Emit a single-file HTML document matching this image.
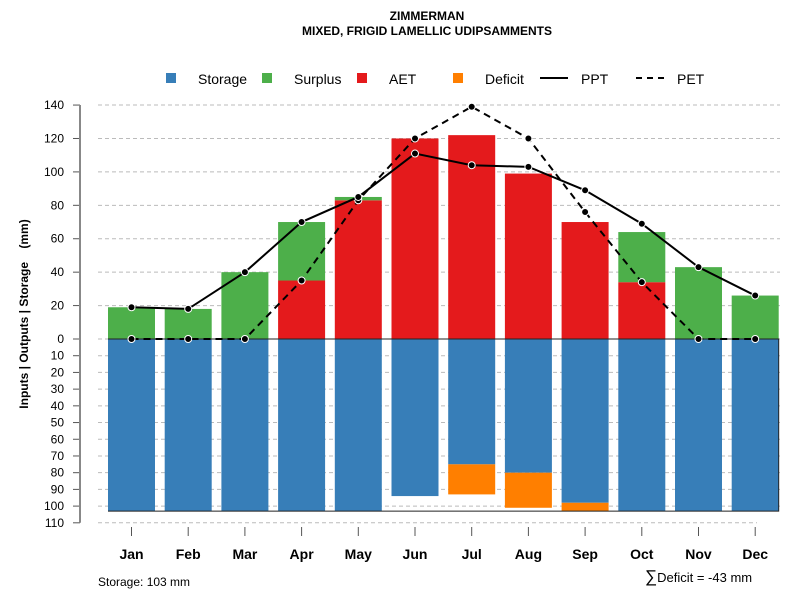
<!DOCTYPE html>
<html><head><meta charset="utf-8"><style>
body{margin:0;background:#fff}
svg{font-family:"Liberation Sans",sans-serif;display:block}
</style></head><body>
<svg id="c" width="800" height="600" viewBox="0 0 800 600">
<text x="427" y="20" text-anchor="middle" font-size="12" font-weight="bold">ZIMMERMAN</text>
<text x="427" y="35" text-anchor="middle" font-size="12" font-weight="bold">MIXED, FRIGID LAMELLIC UDIPSAMMENTS</text>
<g font-size="14">
<rect x="166" y="73" width="10" height="10" fill="#377eb8"/>
<text x="198" y="84">Storage</text>
<rect x="262" y="73" width="10" height="10" fill="#4daf4a"/>
<text x="294" y="84">Surplus</text>
<rect x="357" y="73" width="10" height="10" fill="#e41a1c"/>
<text x="389" y="84">AET</text>
<rect x="453" y="73" width="10" height="10" fill="#ff7f00"/>
<text x="485" y="84">Deficit</text>
<line x1="540" y1="78" x2="568" y2="78" stroke="#000" stroke-width="2"/>
<text x="581" y="84">PPT</text>
<line x1="636" y1="78" x2="664" y2="78" stroke="#000" stroke-width="2" stroke-dasharray="6,5"/>
<text x="677" y="84">PET</text>
</g>
<text transform="translate(28,314) rotate(-90)" text-anchor="middle" font-size="12" font-weight="bold" style="white-space:pre">Inputs | Outputs | Storage    (mm)</text>
<text x="98" y="586" font-size="12">Storage: 103 mm</text>
<text x="645" y="582" font-size="13"><tspan font-size="17">∑</tspan>Deficit = -43 mm</text>
<g id="grid"></g><g id="bars"></g><g id="lines"></g><g id="axes"></g>
</svg>
<script>
const months=["Jan","Feb","Mar","Apr","May","Jun","Jul","Aug","Sep","Oct","Nov","Dec"];
const storage=[103,103,103,103,103,94,75,80,98,103,103,103];
const deficit=[0,0,0,0,0,0,18,21,5,0,0,0];
const aet=[0,0,0,35,83,120,122,99,70,34,0,0];
const surplus=[19,18,40,35,2,0,0,0,0,30,43,26];
const ppt=[19,18,40,70,85,111,104,103,89,69,43,26];
const pet=[0,0,0,35,83,120,139,120,76,34,0,0];
const upTicks=[0,20,40,60,80,100,120,140];
const downTicks=[10,20,30,40,50,60,70,80,90,100,110];
const NS="http://www.w3.org/2000/svg";
const y0=339,k=1.671;
const yUp=v=>y0-v*k, yDn=v=>y0+v*k;
const xc=i=>131.5+i*56.7, bw=47;
function mk(tag,attrs,parent){const e=document.createElementNS(NS,tag);for(const a in attrs)e.setAttribute(a,attrs[a]);document.getElementById(parent).appendChild(e);return e;}
upTicks.forEach(v=>{
 const g=mk("line",{x1:98,x2:780,y1:yUp(v),y2:yUp(v),stroke:"#bbb","stroke-dasharray":"4,3"},"grid");
 
 
 const t=mk("line",{x1:73,x2:80,y1:yUp(v),y2:yUp(v),stroke:"#555"},"axes");
 
 
 const l=mk("text",{x:64,y:yUp(v)+4,"text-anchor":"end","font-size":"12"},"axes");l.textContent=v;
 
 
});
downTicks.forEach(v=>{
 const g=mk("line",{x1:98,x2:v==110?757:780,y1:yDn(v),y2:yDn(v),stroke:"#bbb","stroke-dasharray":"4,3"},"grid");
 
 
 const t=mk("line",{x1:73,x2:80,y1:yDn(v),y2:yDn(v),stroke:"#555"},"axes");
 
 
 const l=mk("text",{x:64,y:yDn(v)+4,"text-anchor":"end","font-size":"12"},"axes");l.textContent=v;
 
 
});
const ax=mk("line",{x1:80,x2:80,y1:yUp(140),y2:yDn(110),stroke:"#888","stroke-width":2},"axes");


months.forEach((m,i)=>{
 const x=xc(i)-bw/2;
 const s=mk("rect",{x:x,y:y0,width:bw,height:storage[i]*k,fill:"#377eb8"},"bars");
 
 
 if(deficit[i]>0){const d=mk("rect",{x:x,y:yDn(storage[i]),width:bw,height:deficit[i]*k,fill:"#ff7f00"},"bars");
 
 }
 if(aet[i]>0){const a=mk("rect",{x:x,y:yUp(aet[i]),width:bw,height:aet[i]*k,fill:"#e41a1c"},"bars");
 
 }
 if(surplus[i]>0){const u=mk("rect",{x:x,y:yUp(aet[i]+surplus[i]),width:bw,height:surplus[i]*k,fill:"#4daf4a"},"bars");
 
 }
 const t=mk("line",{x1:xc(i),x2:xc(i),y1:527,y2:536,stroke:"#555"},"axes");
 
 
 const l=mk("text",{x:xc(i),y:559,"text-anchor":"middle","font-size":"14","font-weight":"bold"},"axes");l.textContent=m;
 
 
});
const box=mk("path",{d:`M${xc(0)-bw/2},${y0} H${xc(11)+bw/2} V${yDn(103)} H${xc(0)-bw/2}`,fill:"none",stroke:"#222","stroke-width":1},"bars");


function series(vals,name,dash){
 const p=mk("polyline",{points:vals.map((v,i)=>xc(i)+","+yUp(v)).join(" "),fill:"none",stroke:"#000","stroke-width":2,"stroke-dasharray":dash},"lines");
 
 
 vals.forEach((v,i)=>{const c=mk("circle",{cx:xc(i),cy:yUp(v),r:3.5,fill:"#000",stroke:"#fff","stroke-width":1},"lines");
 
 });
}
series(pet,"pet","7,5");
series(ppt,"ppt","none");
</script>
</body></html>
